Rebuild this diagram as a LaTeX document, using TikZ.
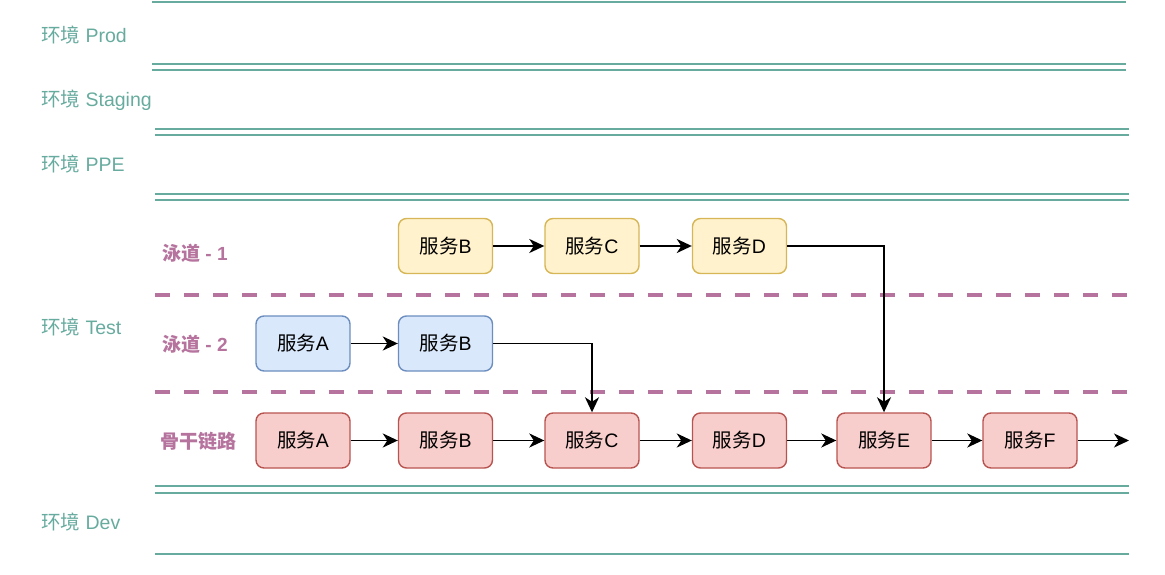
\documentclass[tikz,border=0pt]{standalone}
\usepackage{fontspec}
\setmainfont{Liberation Sans}
\newfontfamily\cjk{Noto Sans CJK SC}
\usetikzlibrary{arrows.meta}
\definecolor{envc}{HTML}{67AB9F}
\definecolor{lanec}{HTML}{B5739D}
\definecolor{yfill}{HTML}{FFF2CC}\definecolor{ydraw}{HTML}{D6B656}
\definecolor{bfill}{HTML}{DAE8FC}\definecolor{bdraw}{HTML}{6C8EBF}
\definecolor{rfill}{HTML}{F8CECC}\definecolor{rdraw}{HTML}{B85450}
\tikzset{
  envline/.style={draw=envc,line width=2.2pt},
  envlabel/.style={anchor=west,text=envc,font=\fontsize{19.5}{23}\selectfont,inner sep=0pt},
  lanelabel/.style={anchor=west,text=lanec,font=\bfseries\fontsize{19}{23}\selectfont,inner sep=0pt},
  laneline/.style={draw=lanec,line width=4pt,dash pattern=on 15pt off 14pt},
  svc/.style={rounded corners=8pt,minimum width=94pt,minimum height=55pt,line width=1.4pt,font=\fontsize{19.5}{23}\selectfont,inner sep=0pt},
  ysvc/.style={svc,fill=yfill,draw=ydraw},
  bsvc/.style={svc,fill=bfill,draw=bdraw},
  rsvc/.style={svc,fill=rfill,draw=rdraw},
  conn/.style={draw=black,line width=1.9pt,-{Stealth[length=15pt,width=14pt,inset=4.5pt]}}
}
\newcommand{\fw}[1]{{\cjk 服务}#1}
\newcommand{\hj}[1]{{\cjk 环境} #1}
\begin{document}
\begin{tikzpicture}[x=1pt,y=-1pt]
\useasboundingbox (0,0) rectangle (1165,575);
% environment borders
\coordinate (p1) at (152,2);   \coordinate (p1e) at (1126,2);
\coordinate (p2) at (152,64);  \coordinate (p2e) at (1126,64);
\coordinate (s1) at (152,70);  \coordinate (s1e) at (1126,70);
\coordinate (s2) at (155,129); \coordinate (s2e) at (1129,129);
\coordinate (q1) at (155,135); \coordinate (q1e) at (1129,135);
\coordinate (q2) at (155,194); \coordinate (q2e) at (1129,194);
\coordinate (t1) at (155,200); \coordinate (t1e) at (1129,200);
\coordinate (t2) at (155,486); \coordinate (t2e) at (1129,486);
\coordinate (d1) at (155,493); \coordinate (d1e) at (1129,493);
\coordinate (d2) at (155,554); \coordinate (d2e) at (1129,554);
\foreach \a in {p1,p2,s1,s2,q1,q2,t1,t2,d1,d2} \draw[envline] (\a) -- (\a e);
% lane separators
\coordinate (l1) at (155,295); \coordinate (l1e) at (1130,295);
\coordinate (l2) at (155,392); \coordinate (l2e) at (1130,392);
\draw[laneline] (l1) -- (l1e);
\draw[laneline] (l2) -- (l2e);
% env labels
\node[envlabel] (eprod) at (41,35) {\hj{Prod}};
\node[envlabel] (estg) at (41,100) {\hj{Staging}};
\node[envlabel] (eppe) at (41,164) {\hj{PPE}};
\node[envlabel] (etest) at (41,327) {\hj{Test}};
\node[envlabel] (edev) at (41,522) {\hj{Dev}};
% lane labels
\node[lanelabel] (lane1) at (162,253) {{\cjk 泳道} - 1};
\node[lanelabel] (lane2) at (162,344) {{\cjk 泳道} - 2};
\node[lanelabel] (trunk) at (160,441) {\cjk 骨干链路};
% lane 1
\node[ysvc] (yb) at (445.5,246) {\fw{B}};
\node[ysvc] (yc) at (592,246) {\fw{C}};
\node[ysvc] (yd) at (739.5,246) {\fw{D}};
% lane 2
\node[bsvc] (ba) at (303,343.5) {\fw{A}};
\node[bsvc] (bb) at (445.5,343.5) {\fw{B}};
% trunk
\node[rsvc] (ra) at (303,440.5) {\fw{A}};
\node[rsvc] (rb) at (445.5,440.5) {\fw{B}};
\node[rsvc] (rc) at (592,440.5) {\fw{C}};
\node[rsvc] (rd) at (739.5,440.5) {\fw{D}};
\node[rsvc] (re) at (884,440.5) {\fw{E}};
\node[rsvc] (rf) at (1030,440.5) {\fw{F}};
\coordinate (rend) at (1129,440.5);
% connectors
\draw[conn] (yb) -- (yc);
\draw[conn] (yc) -- (yd);
\draw[conn] (ba) -- (bb);
\draw[conn] (ra) -- (rb);
\draw[conn] (rb) -- (rc);
\draw[conn] (rc) -- (rd);
\draw[conn] (rd) -- (re);
\draw[conn] (re) -- (rf);
\draw[conn] (rf) -- (rend);
\draw[conn] (yd.east) -| (re.north);
\draw[conn] (bb.east) -| (rc.north);
\end{tikzpicture}
\end{document}
